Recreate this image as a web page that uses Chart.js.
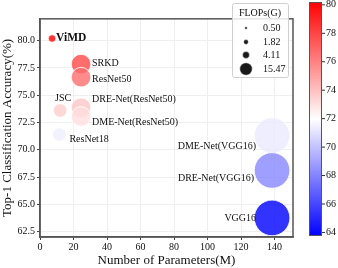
<!DOCTYPE html>
<html>
<head>
<meta charset="utf-8">
<script src="https://cdn.jsdelivr.net/npm/chart.js@4.4.1/dist/chart.umd.min.js"></script>
<style>
  html, body { margin: 0; padding: 0; background: #fff; }
  #wrap { width: 338px; height: 268px; }
</style>
</head>
<body>
<div id="wrap"><canvas id="chart" width="338" height="268"></canvas></div>
<script>
// data
var models = ['ViMD', 'SRKD', 'ResNet50', 'JSC', 'DRE-Net(ResNet50)', 'DME-Net(ResNet50)',
              'ResNet18', 'DME-Net(VGG16)', 'DRE-Net(VGG16)', 'VGG16'];
var params = [7.2, 24.5, 24.5, 12, 24.5, 24.5, 11.6, 138.5, 138.5, 138.5];
var accuracy = [80.2, 77.85, 76.65, 73.6, 73.85, 73.05, 71.4, 71.3, 68.1, 63.75];
var flops = [0.5, 4.11, 4.11, 1.82, 4.11, 4.11, 1.82, 15.47, 15.47, 15.47];
var legendFlops = [0.50, 1.82, 4.11, 15.47];
var xTicks = [0, 20, 40, 60, 80, 100, 120, 140];
var yTicks = [62.5, 65, 67.5, 70, 72.5, 75, 77.5, 80];
var cbTicks = [64, 66, 68, 70, 72, 74, 76, 78, 80];

var SERIF = '"Liberation Serif", "DejaVu Serif", serif';
var vmin = Math.min.apply(null, accuracy);
var vmax = Math.max.apply(null, accuracy);

function bwr(v, alpha) {
    var t = (v - vmin) / (vmax - vmin);
    t = Math.max(0, Math.min(1, t));
    var r, g, b;
    if (t < 0.5) { r = 2 * t; g = 2 * t; b = 1; }
    else { r = 1; g = 2 * (1 - t); b = 2 * (1 - t); }
    return 'rgba(' + Math.round(r * 255) + ',' + Math.round(g * 255) + ',' + Math.round(b * 255) + ',' + alpha + ')';
}
function radius(f) { return 5.2 * Math.pow(f, 0.45); }

// label placement relative to the point (px)
var labelPos = [
    [4, 0, 'left'], [11, -1, 'left'], [11, 2, 'left'], [-5, -12, 'left'], [11, -8, 'left'],
    [11, 6, 'left'], [10, 5, 'left'], [-16, 11, 'right'], [-18, 8, 'right'], [-16, 0, 'right']
];

var extras = {
    id: 'extras',
    afterDraw: function(chart) {
        var ctx = chart.ctx;
        var a = chart.chartArea;
        var meta = chart.getDatasetMeta(0);
        ctx.save();

        // point labels
        ctx.fillStyle = '#111';
        ctx.textBaseline = 'middle';
        meta.data.forEach(function(pt, i) {
            var p = labelPos[i];
            ctx.font = (i === 0 ? 'bold 11.5px ' : '10px ') + SERIF;
            ctx.textAlign = p[2];
            ctx.fillText(models[i], pt.x + p[0], pt.y + p[1]);
        });

        // frame
        ctx.strokeStyle = '#555';
        ctx.lineWidth = 1.5;
        ctx.strokeRect(a.left, a.top, a.right - a.left, a.bottom - a.top);

        // size legend
        var lx = 232, ly = 3, lw = 56, lh = 74;
        ctx.fillStyle = 'rgba(255,255,255,0.85)';
        ctx.strokeStyle = '#d0d0d0';
        ctx.lineWidth = 1;
        ctx.beginPath();
        ctx.roundRect(lx + 0.5, ly + 0.5, lw, lh, 2);
        ctx.fill();
        ctx.stroke();
        ctx.fillStyle = '#111';
        ctx.font = '10px ' + SERIF;
        ctx.textAlign = 'center';
        ctx.fillText('FLOPs(G)', lx + lw / 2, ly + 10);
        var rows = [28, 42, 55, 69];
        legendFlops.forEach(function(f, i) {
            ctx.beginPath();
            ctx.arc(246, rows[i], radius(f) * 0.35, 0, Math.PI * 2);
            ctx.fillStyle = 'rgba(0,0,0,0.9)';
            ctx.fill();
            ctx.strokeStyle = 'rgba(255,255,255,0.8)';
            ctx.lineWidth = 0.6;
            ctx.stroke();
            ctx.fillStyle = '#111';
            ctx.textAlign = 'left';
            ctx.fillText(f.toFixed(2), 263, rows[i]);
        });

        // colorbar
        var cx = 309, cw = 13, ct = 2, cb = 236;
        var grad = ctx.createLinearGradient(0, cb, 0, ct);
        for (var k = 0; k <= 20; k++) {
            grad.addColorStop(k / 20, bwr(vmin + (vmax - vmin) * k / 20, 1));
        }
        ctx.fillStyle = grad;
        ctx.fillRect(cx, ct, cw, cb - ct);
        ctx.strokeStyle = '#555';
        ctx.lineWidth = 1;
        ctx.strokeRect(cx + 0.5, ct + 0.5, cw - 1, cb - ct - 1);
        ctx.font = '10px ' + SERIF;
        ctx.fillStyle = '#111';
        ctx.textAlign = 'left';
        cbTicks.forEach(function(v) {
            var y = cb - (v - vmin) / (vmax - vmin) * (cb - ct);
            ctx.beginPath();
            ctx.moveTo(cx + cw, y);
            ctx.lineTo(cx + cw + 3, y);
            ctx.strokeStyle = '#333';
            ctx.stroke();
            ctx.fillText(String(v), cx + cw + 4, y);
        });
        ctx.restore();
    }
};

var points = params.map(function(x, i) {
    return { x: x, y: accuracy[i], r: radius(flops[i]) };
});

new Chart(document.getElementById('chart').getContext('2d'), {
    type: 'bubble',
    data: {
        datasets: [{
            data: points,
            backgroundColor: accuracy.map(function(v) { return bwr(v, 0.8); }),
            borderColor: 'rgba(255,255,255,0.85)',
            borderWidth: 1,
            hoverRadius: 0
        }]
    },
    options: {
        responsive: false,
        animation: false,
        events: [],
        layout: { padding: { top: 1, right: 45, left: 0, bottom: 0 } },
        plugins: { legend: { display: false }, tooltip: { enabled: false } },
        scales: {
            x: {
                type: 'linear', min: 0, max: 151,
                afterFit: function(s) { s.height = 31; },
                afterBuildTicks: function(s) { s.ticks = xTicks.map(function(v) { return { value: v }; }); },
                grid: { color: '#efefef', tickColor: '#444', tickLength: 3 },
                border: { color: '#555', width: 1.5 },
                ticks: { color: '#111', font: { family: SERIF, size: 10 }, padding: 1, maxRotation: 0 },
                title: { display: true, text: 'Number of Parameters(M)', color: '#111',
                         font: { family: SERIF, size: 13, lineHeight: 1.1 }, padding: 0 }
            },
            y: {
                type: 'linear', min: 62, max: 82,
                afterFit: function(s) { s.width = 40; },
                afterBuildTicks: function(s) { s.ticks = yTicks.map(function(v) { return { value: v }; }); },
                grid: { color: '#efefef', tickColor: '#444', tickLength: 3 },
                border: { color: '#555', width: 1.5 },
                ticks: { color: '#111', font: { family: SERIF, size: 10 }, padding: 2,
                         callback: function(v) { return v.toFixed(1); } },
                title: { display: true, text: 'Top-1 Classification Accuracy(%)', color: '#111',
                         font: { family: SERIF, size: 13, lineHeight: 1.1 }, padding: 0 }
            }
        }
    },
    plugins: [extras]
});
</script>
</body>
</html>
